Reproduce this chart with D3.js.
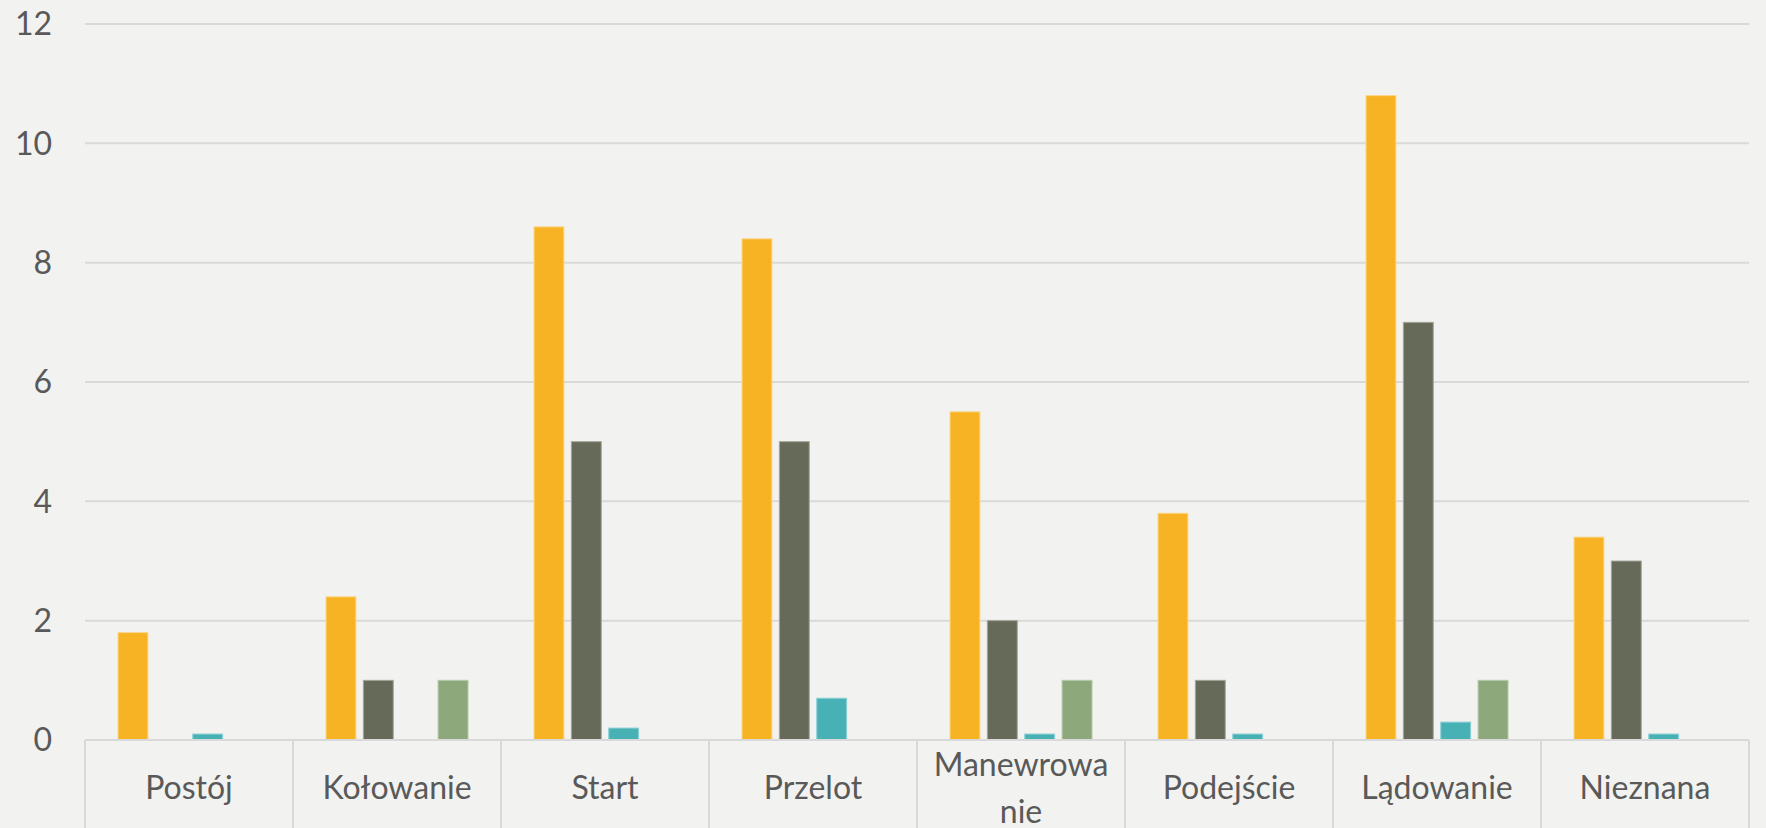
<!DOCTYPE html>
<meta charset="utf-8">
<style>
body { margin: 0; background: #f2f2f0; }
svg { display: block; font-family: Lato, "Open Sans", sans-serif; }
.grid line { stroke: #d9d9d9; stroke-width: 2; }
.ylab text { fill: #595959; font-size: 32px; }
.xlab text { fill: #595959; font-size: 32px; }
.xbox line { stroke: #d9d9d9; stroke-width: 2; }
</style>
<svg width="1766" height="828"></svg>
<script src="https://d3js.org/d3.v7.min.js"></script>
<script>

var categories = ["Postój", "Kołowanie", "Start", "Przelot", "Manewrowanie", "Podejście", "Lądowanie", "Nieznana"];
var series = ["s1", "s2", "s3", "s4"];
var s1 = [1.8, 2.4, 8.6, 8.4, 5.5, 3.8, 10.8, 3.4];
var s2 = [0, 1, 5, 5, 2, 1, 7, 3];
var s3 = [0.1, 0, 0.2, 0.7, 0.1, 0.1, 0.3, 0.1];
var s4 = [0, 1, 0, 0, 1, 0, 1, 0];
var yTicks = [0, 2, 4, 6, 8, 10, 12];
var colors = ["#f7b324", "#666a58", "#47b1b5", "#8da97c"];
var strokes = ["#fbd78a", "#a3a69a", "#8fd0d3", "#b5c8a9"];

var values = [s1, s2, s3, s4];

var svg = d3.select("svg"),
    plotLeft = 85, plotRight = 1749, plotTop = 24, zeroY = 740;

var x = d3.scaleBand()
  .domain(categories)
  .range([plotLeft, plotRight]);

var xi = d3.scaleBand()
  .domain(series)
  .range([33, x.bandwidth() - 33])
  .paddingInner(0.2);

var y = d3.scaleLinear()
  .domain([0, 12])
  .range([zeroY, plotTop]);

// gridlines
svg.append("g")
  .attr("class", "grid")
  .selectAll("line")
  .data(yTicks)
  .enter()
  .append("line")
  .attr("x1", plotLeft)
  .attr("x2", plotRight)
  .attr("y1", function(d) { return y(d); })
  .attr("y2", function(d) { return y(d); });

svg.append("g")
  .attr("class", "ylab")
  .selectAll("text")
  .data(yTicks)
  .enter()
  .append("text")
  .attr("x", 52)
  .attr("y", function(d) { return y(d); })
  .attr("dy", "0.35em")
  .attr("text-anchor", "end")
  .text(function(d) { return d; });

// bars
var groups = svg.append("g")
  .selectAll("g")
  .data(categories)
  .enter()
  .append("g")
  .attr("transform", function(d) { return "translate(" + x(d) + ",0)"; });

groups.selectAll("rect")
  .data(function(d, i) {
    return series.map(function(s, j) { return { s: s, j: j, v: values[j][i] }; })
      .filter(function(d) { return d.v > 0; });
  })
  .enter()
  .append("rect")
  .attr("x", function(d) { return xi(d.s); })
  .attr("width", xi.bandwidth())
  .attr("y", function(d) { return y(d.v); })
  .attr("height", function(d) { return zeroY - y(d.v); })
  .attr("fill", function(d) { return colors[d.j]; })
  .attr("stroke", function(d) { return strokes[d.j]; })
  .attr("stroke-width", 1);

// category boxes
var bounds = categories.map(function(c) { return x(c); }).concat([plotRight]);
svg.append("g")
  .attr("class", "xbox")
  .selectAll("line")
  .data(bounds)
  .enter()
  .append("line")
  .attr("x1", function(d) { return d; })
  .attr("x2", function(d) { return d; })
  .attr("y1", zeroY)
  .attr("y2", 828);

svg.append("line")
  .attr("x1", plotLeft).attr("x2", plotRight)
  .attr("y1", zeroY).attr("y2", zeroY)
  .attr("stroke", "#d9d9d9").attr("stroke-width", 2);

// category labels, broken by characters when too wide
var xlab = svg.append("g").attr("class", "xlab");
categories.forEach(function(c) {
  var t = xlab.append("text")
    .attr("x", x(c) + x.bandwidth() / 2)
    .attr("text-anchor", "middle");
  var lines = [], cur = "";
  var probe = t.append("tspan");
  c.split("").forEach(function(ch) {
    probe.text(cur + ch);
    if (probe.node().getComputedTextLength() > 190 && cur) {
      lines.push(cur);
      cur = ch;
    } else {
      cur += ch;
    }
  });
  lines.push(cur);
  probe.remove();
  var y0 = 788 - (lines.length - 1) * 23.5;
  lines.forEach(function(l, k) {
    t.append("tspan")
      .attr("x", x(c) + x.bandwidth() / 2)
      .attr("y", y0 + k * 47)
      .attr("dy", "0.35em")
      .text(l);
  });
});

</script>
